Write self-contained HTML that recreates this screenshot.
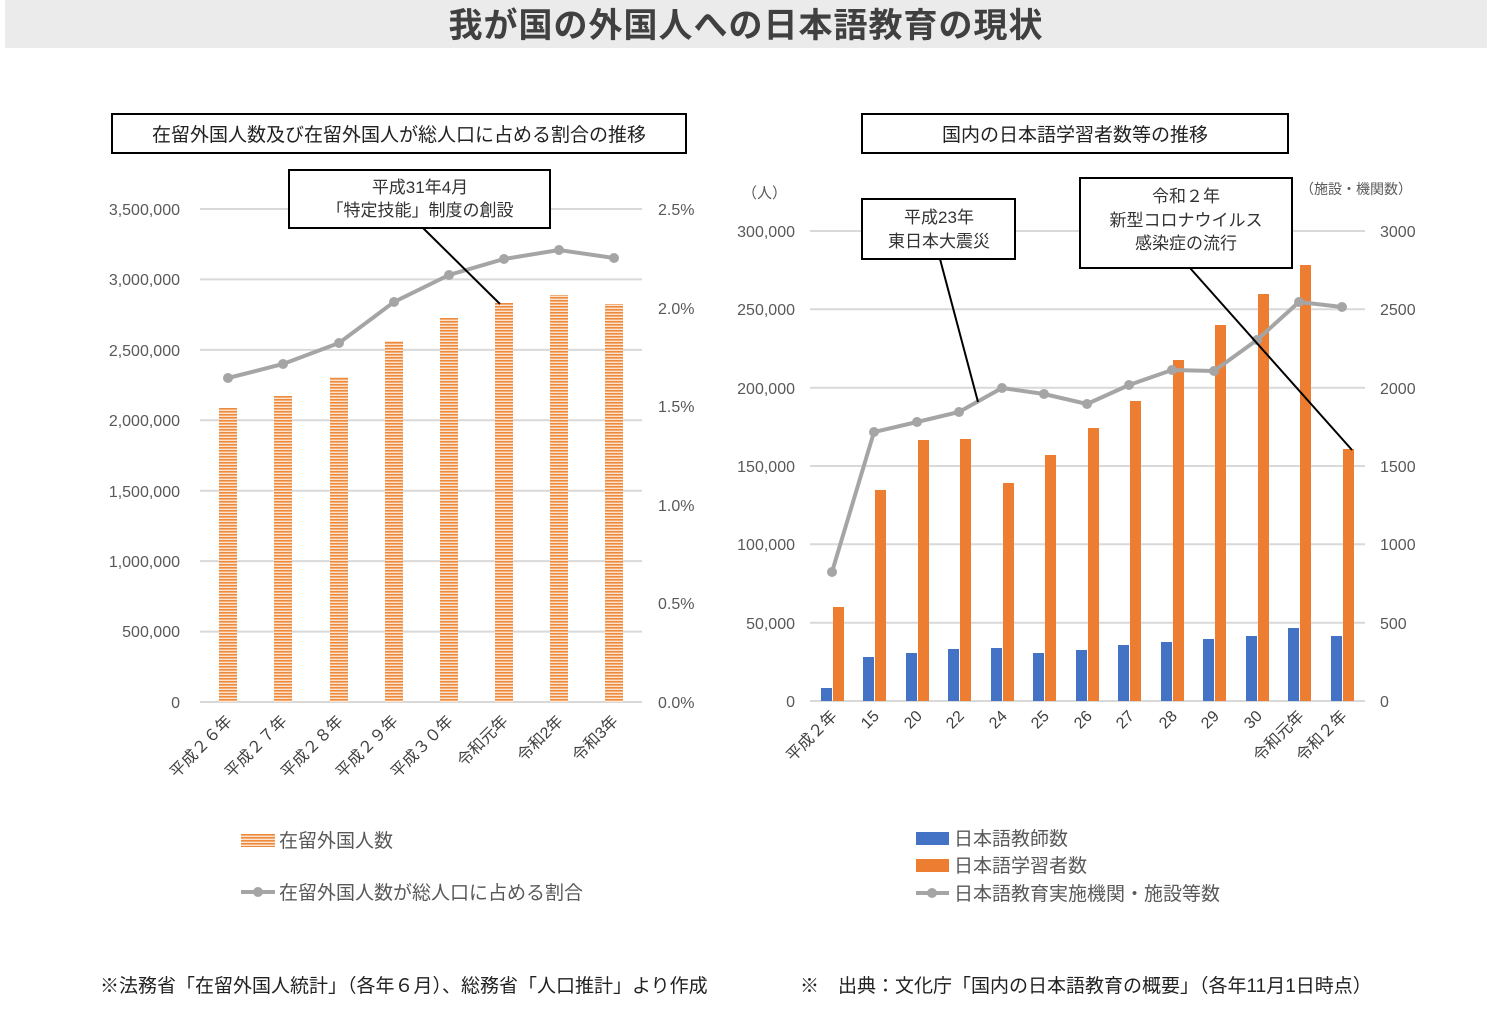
<!DOCTYPE html>
<html><head><meta charset="utf-8"><style>
body{margin:0;background:#fff}
svg text{font-family:"Liberation Sans","Noto Sans CJK JP",sans-serif}
</style></head><body>
<svg width="1500" height="1014" xmlns="http://www.w3.org/2000/svg">
<defs>
<pattern id="st" width="4" height="3" patternUnits="userSpaceOnUse"><rect width="4" height="3" fill="#fbe3cf"/><rect width="4" height="1.6" fill="#ed8a3c"/></pattern>
</defs>
<rect x="5" y="0" width="1482" height="48" fill="#ebebeb"/>
<text x="746" y="37" font-size="34" font-weight="bold" letter-spacing="1" text-anchor="middle" fill="#404040">我が国の外国人への日本語教育の現状</text>

<!-- LEFT -->
<rect x="112" y="114" width="574" height="39" fill="#fff" stroke="#000" stroke-width="2"/>
<text x="399" y="141" font-size="19" text-anchor="middle" fill="#222">在留外国人数及び在留外国人が総人口に占める割合の推移</text>
<g stroke="#d9d9d9" stroke-width="2">
<line x1="200" x2="642" y1="209" y2="209"/><line x1="200" x2="642" y1="279.4" y2="279.4"/><line x1="200" x2="642" y1="349.9" y2="349.9"/><line x1="200" x2="642" y1="420.3" y2="420.3"/><line x1="200" x2="642" y1="490.7" y2="490.7"/><line x1="200" x2="642" y1="561.1" y2="561.1"/><line x1="200" x2="642" y1="631.6" y2="631.6"/><line x1="200" x2="642" y1="702" y2="702"/>
</g>
<g font-size="16" fill="#595959" text-anchor="end">
<text x="180" y="215">3,500,000</text><text x="180" y="285">3,000,000</text><text x="180" y="356">2,500,000</text><text x="180" y="426">2,000,000</text><text x="180" y="497">1,500,000</text><text x="180" y="567">1,000,000</text><text x="180" y="637">500,000</text><text x="180" y="708">0</text>
</g>
<g font-size="16" fill="#595959">
<text x="658" y="215">2.5%</text><text x="658" y="314">2.0%</text><text x="658" y="412">1.5%</text><text x="658" y="511">1.0%</text><text x="658" y="609">0.5%</text><text x="658" y="708">0.0%</text>
</g>
<g fill="url(#st)">
<rect x="219" y="408" width="18" height="294"/><rect x="274" y="396" width="18" height="306"/><rect x="330" y="377" width="18" height="325"/><rect x="385" y="341" width="18" height="361"/><rect x="440" y="318" width="18" height="384"/><rect x="495" y="303" width="18" height="399"/><rect x="550" y="295" width="18" height="407"/><rect x="605" y="304" width="18" height="398"/>
</g>
<polyline points="228,378 283,364 339,343 394,302 449,275 504,259 559,250 614,258" fill="none" stroke="#a5a5a5" stroke-width="4"/>
<g fill="#a5a5a5"><circle cx="228" cy="378" r="5"/><circle cx="283" cy="364" r="5"/><circle cx="339" cy="343" r="5"/><circle cx="394" cy="302" r="5"/><circle cx="449" cy="275" r="5"/><circle cx="504" cy="259" r="5"/><circle cx="559" cy="250" r="5"/><circle cx="614" cy="258" r="5"/></g>
<line x1="423" y1="228" x2="500" y2="304" stroke="#000" stroke-width="2"/>
<rect x="289" y="170" width="261" height="58" fill="#fff" stroke="#000" stroke-width="2"/>
<text x="420" y="193" font-size="17" text-anchor="middle" fill="#333">平成31年4月</text>
<text x="420" y="216" font-size="17" text-anchor="middle" fill="#333">「特定技能」制度の創設</text>
<g font-size="16" fill="#404040" text-anchor="end">
<text transform="translate(233,722) rotate(-45)">平成２６年</text><text transform="translate(288,722) rotate(-45)">平成２７年</text><text transform="translate(344,722) rotate(-45)">平成２８年</text><text transform="translate(399,722) rotate(-45)">平成２９年</text><text transform="translate(454,722) rotate(-45)">平成３０年</text><text transform="translate(509,722) rotate(-45)">令和元年</text><text transform="translate(564,722) rotate(-45)">令和2年</text><text transform="translate(619,722) rotate(-45)">令和3年</text>
</g>
<rect x="241" y="834" width="34" height="13" fill="url(#st)"/>
<text x="279" y="847" font-size="19" fill="#595959">在留外国人数</text>
<line x1="241" y1="892" x2="275" y2="892" stroke="#a5a5a5" stroke-width="4"/><circle cx="258" cy="892" r="5" fill="#a5a5a5"/>
<text x="279" y="899" font-size="19" fill="#595959">在留外国人数が総人口に占める割合</text>
<text x="100" y="992" font-size="19" fill="#222">※法務省「在留外国人統計」（各年６月）、総務省「人口推計」より作成</text>

<!-- RIGHT -->
<rect x="862" y="114" width="426" height="39" fill="#fff" stroke="#000" stroke-width="2"/>
<text x="1075" y="141" font-size="19" text-anchor="middle" fill="#222">国内の日本語学習者数等の推移</text>
<g stroke="#d9d9d9" stroke-width="2">
<line x1="810" x2="1365" y1="231" y2="231"/><line x1="810" x2="1365" y1="309.3" y2="309.3"/><line x1="810" x2="1365" y1="387.7" y2="387.7"/><line x1="810" x2="1365" y1="466" y2="466"/><line x1="810" x2="1365" y1="544.3" y2="544.3"/><line x1="810" x2="1365" y1="622.7" y2="622.7"/><line x1="810" x2="1365" y1="701" y2="701"/>
</g>
<g font-size="16" fill="#595959" text-anchor="end">
<text x="795" y="237">300,000</text><text x="795" y="315">250,000</text><text x="795" y="394">200,000</text><text x="795" y="472">150,000</text><text x="795" y="550">100,000</text><text x="795" y="629">50,000</text><text x="795" y="707">0</text>
</g>
<g font-size="16" fill="#595959">
<text x="1380" y="237">3000</text><text x="1380" y="315">2500</text><text x="1380" y="394">2000</text><text x="1380" y="472">1500</text><text x="1380" y="550">1000</text><text x="1380" y="629">500</text><text x="1380" y="707">0</text>
</g>
<text x="742" y="198" font-size="15" fill="#595959">（人）</text>
<text x="1300" y="194" font-size="14" fill="#595959">（施設・機関数）</text>
<g fill="#4472c4">
<rect x="821" y="688" width="11" height="13"/><rect x="863" y="657" width="11" height="44"/><rect x="906" y="653" width="11" height="48"/><rect x="948" y="649" width="11" height="52"/><rect x="991" y="648" width="11" height="53"/><rect x="1033" y="653" width="11" height="48"/><rect x="1076" y="650" width="11" height="51"/><rect x="1118" y="645" width="11" height="56"/><rect x="1161" y="642" width="11" height="59"/><rect x="1203" y="639" width="11" height="62"/><rect x="1246" y="636" width="11" height="65"/><rect x="1288" y="628" width="11" height="73"/><rect x="1331" y="636" width="11" height="65"/>
</g>
<g fill="#ed7d31">
<rect x="833" y="607" width="11" height="94"/><rect x="875" y="490" width="11" height="211"/><rect x="918" y="440" width="11" height="261"/><rect x="960" y="439" width="11" height="262"/><rect x="1003" y="483" width="11" height="218"/><rect x="1045" y="455" width="11" height="246"/><rect x="1088" y="428" width="11" height="273"/><rect x="1130" y="401" width="11" height="300"/><rect x="1173" y="360" width="11" height="341"/><rect x="1215" y="325" width="11" height="376"/><rect x="1258" y="294" width="11" height="407"/><rect x="1300" y="265" width="11" height="436"/><rect x="1343" y="449" width="11" height="252"/>
</g>
<polyline points="832,572 874,432 917,422 959,412 1002,388 1044,394 1087,404 1129,385 1172,370 1214,371 1257,340 1299,302 1342,307" fill="none" stroke="#a5a5a5" stroke-width="4"/>
<g fill="#a5a5a5"><circle cx="832" cy="572" r="5"/><circle cx="874" cy="432" r="5"/><circle cx="917" cy="422" r="5"/><circle cx="959" cy="412" r="5"/><circle cx="1002" cy="388" r="5"/><circle cx="1044" cy="394" r="5"/><circle cx="1087" cy="404" r="5"/><circle cx="1129" cy="385" r="5"/><circle cx="1172" cy="370" r="5"/><circle cx="1214" cy="371" r="5"/><circle cx="1257" cy="340" r="5"/><circle cx="1299" cy="302" r="5"/><circle cx="1342" cy="307" r="5"/></g>
<line x1="940" y1="259" x2="978" y2="402" stroke="#000" stroke-width="2"/>
<line x1="1190" y1="268" x2="1352" y2="450" stroke="#000" stroke-width="2"/>
<rect x="862" y="199" width="153" height="60" fill="#fff" stroke="#000" stroke-width="2"/>
<text x="939" y="223" font-size="17" text-anchor="middle" fill="#333">平成23年</text>
<text x="939" y="247" font-size="17" text-anchor="middle" fill="#333">東日本大震災</text>
<rect x="1080" y="178" width="212" height="90" fill="#fff" stroke="#000" stroke-width="2"/>
<text x="1186" y="202" font-size="17" text-anchor="middle" fill="#333">令和２年</text>
<text x="1186" y="226" font-size="17" text-anchor="middle" fill="#333">新型コロナウイルス</text>
<text x="1186" y="249" font-size="17" text-anchor="middle" fill="#333">感染症の流行</text>
<g font-size="16" fill="#404040" text-anchor="end">
<text transform="translate(838,717) rotate(-45)">平成２年</text><text transform="translate(880,717) rotate(-45)">15</text><text transform="translate(923,717) rotate(-45)">20</text><text transform="translate(965,717) rotate(-45)">22</text><text transform="translate(1008,717) rotate(-45)">24</text><text transform="translate(1050,717) rotate(-45)">25</text><text transform="translate(1093,717) rotate(-45)">26</text><text transform="translate(1135,717) rotate(-45)">27</text><text transform="translate(1178,717) rotate(-45)">28</text><text transform="translate(1220,717) rotate(-45)">29</text><text transform="translate(1263,717) rotate(-45)">30</text><text transform="translate(1305,717) rotate(-45)">令和元年</text><text transform="translate(1348,717) rotate(-45)">令和２年</text>
</g>
<rect x="916" y="832" width="33" height="13" fill="#4472c4"/>
<text x="954" y="845" font-size="19" fill="#595959">日本語教師数</text>
<rect x="916" y="859" width="33" height="13" fill="#ed7d31"/>
<text x="954" y="872" font-size="19" fill="#595959">日本語学習者数</text>
<line x1="916" y1="893" x2="949" y2="893" stroke="#a5a5a5" stroke-width="4"/><circle cx="932" cy="893" r="5" fill="#a5a5a5"/>
<text x="954" y="900" font-size="19" fill="#595959">日本語教育実施機関・施設等数</text>
<text x="800" y="992" font-size="19" fill="#222">※　出典：文化庁「国内の日本語教育の概要」（各年11月1日時点）</text>
</svg>
</body></html>
